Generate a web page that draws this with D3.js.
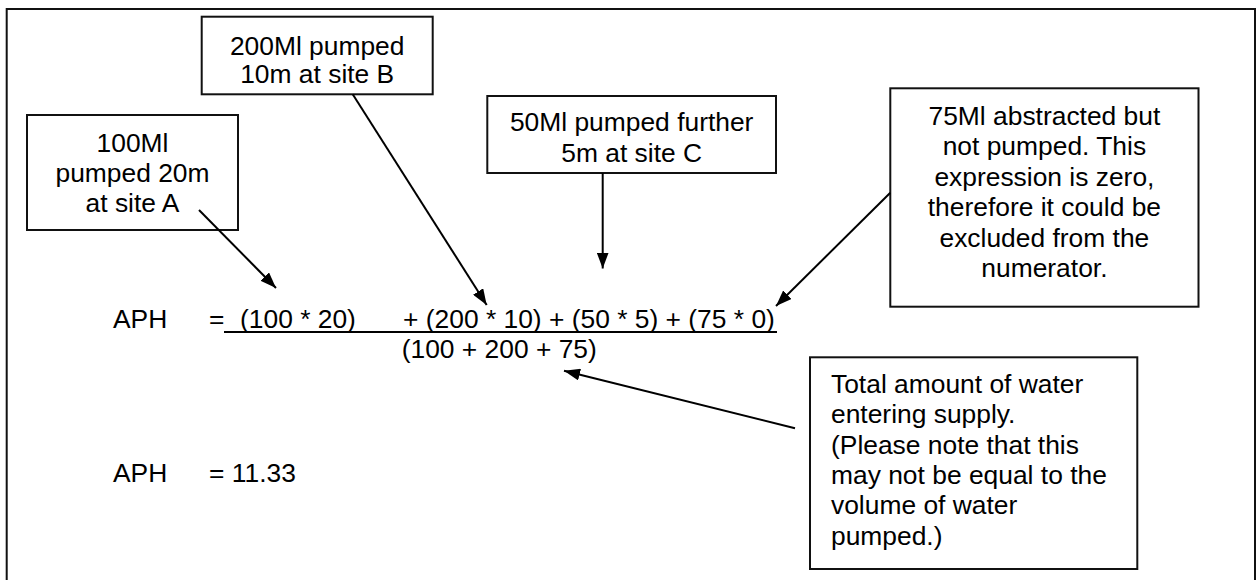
<!DOCTYPE html>
<html>
<head>
<meta charset="utf-8">
<script src="https://cdn.jsdelivr.net/npm/d3@7"></script>
<style>
  html, body { margin: 0; padding: 0; background: #fff; }
  svg { display: block; }
  text { font-family: "Liberation Sans", Arial, sans-serif; font-size: 26.4px; fill: #000; }
</style>
</head>
<body>
<svg id="chart" width="1259" height="580"></svg>
<script>
// ---- data ----
const volumes = [100, 200, 50, 75];        // Ml
const heads = [20, 10, 5, 0];              // m pumped
const enteringSupply = [100, 200, 75];     // Ml entering supply
const labelA = ["100Ml", "pumped 20m", "at site A"];
const labelB = ["200Ml pumped", "10m at site B"];
const labelC = ["50Ml pumped further", "5m at site C"];
const labelD = ["75Ml abstracted but", "not pumped. This", "expression is zero,", "therefore it could be", "excluded from the", "numerator."];
const labelE = ["Total amount of water", "entering supply.", "(Please note that this", "may not be equal to the", "volume of water", "pumped.)"];
const formulaName = "APH";

// ---- derived text ----
const terms = volumes.map((v, i) => `(${v} * ${heads[i]})`);
const numFirst = terms[0];
const numRest = "+ " + terms.slice(1).join(" + ");
const denom = "(" + enteringSupply.join(" + ") + ")";
const aph = d3.sum(volumes.map((v, i) => v * heads[i])) / d3.sum(enteringSupply);
const resultText = "= " + d3.format(".2f")(aph);

// ---- layout (positions) ----
const svg = d3.select("#chart");
const LH = 30.5;

// marker
svg.append("defs").append("marker")
  .attr("id", "arrow")
  .attr("viewBox", "0 0 16 12")
  .attr("refX", 16).attr("refY", 6)
  .attr("markerWidth", 16).attr("markerHeight", 12)
  .attr("markerUnits", "userSpaceOnUse")
  .attr("orient", "auto")
  .append("path").attr("d", "M0,0 L16,6 L0,12 Z").attr("fill", "#000");

// outer frame
svg.append("rect")
  .attr("x", 6.7).attr("y", 9).attr("width", 1255 - 6.7).attr("height", 620)
  .attr("fill", "none").attr("stroke", "#111").attr("stroke-width", 2);

const boxes = [
  { lines: labelA, x0: 27, y0: 115, x1: 238, y1: 230, base: 152, lh: 30, align: "middle" },
  { lines: labelB, x0: 201.7, y0: 16.7, x1: 432.7, y1: 94.3, base: 54.5, lh: 28.5, align: "middle" },
  { lines: labelC, x0: 487.3, y0: 96, x1: 776, y1: 173, base: 131, lh: 31, align: "middle" },
  { lines: labelD, x0: 890.3, y0: 88.3, x1: 1198.5, y1: 306.7, base: 124.5, lh: LH, align: "middle" },
  { lines: labelE, x0: 810, y0: 357.3, x1: 1137.3, y1: 569, base: 392.7, lh: 30.4, align: "start", tx: 831 }
];

const g = svg.selectAll("g.box").data(boxes).join("g").attr("class", "box");
g.append("rect")
  .attr("x", d => d.x0).attr("y", d => d.y0)
  .attr("width", d => d.x1 - d.x0).attr("height", d => d.y1 - d.y0)
  .attr("fill", "#fff").attr("stroke", "#111").attr("stroke-width", 2);
g.each(function(d) {
  const tx = d.align === "middle" ? (d.x0 + d.x1) / 2 : d.tx;
  d3.select(this).selectAll("text").data(d.lines).join("text")
    .attr("x", tx)
    .attr("y", (t, i) => d.base + i * d.lh)
    .attr("text-anchor", d.align)
    .text(t => t);
});

// arrows
const arrows = [
  { x1: 199, y1: 210, x2: 276, y2: 288 },
  { x1: 352.7, y1: 94.3, x2: 486.7, y2: 305 },
  { x1: 602.7, y1: 173, x2: 602.7, y2: 268.5 },
  { x1: 890.3, y1: 192.7, x2: 776, y2: 306 },
  { x1: 795, y1: 428.3, x2: 564, y2: 370.7 }
];
svg.selectAll("line.arrow").data(arrows).join("line")
  .attr("class", "arrow")
  .attr("x1", d => d.x1).attr("y1", d => d.y1)
  .attr("x2", d => d.x2).attr("y2", d => d.y2)
  .attr("stroke", "#000").attr("stroke-width", 2)
  .attr("marker-end", "url(#arrow)");

// formula
svg.append("text").attr("x", 113).attr("y", 328.3).text(formulaName);
svg.append("text").attr("x", 209).attr("y", 328.3).text("=");
svg.append("text").attr("x", 240).attr("y", 328.3).text(numFirst);
svg.append("text").attr("x", 403).attr("y", 328.3).text(numRest);
svg.append("line")
  .attr("x1", 224).attr("x2", 777).attr("y1", 332).attr("y2", 332)
  .attr("stroke", "#000").attr("stroke-width", 2);
svg.append("text").attr("x", 401.7).attr("y", 358.3).text(denom);

svg.append("text").attr("x", 113).attr("y", 481.7).text(formulaName);
svg.append("text").attr("x", 209).attr("y", 481.7).text(resultText);
</script>
</body>
</html>
